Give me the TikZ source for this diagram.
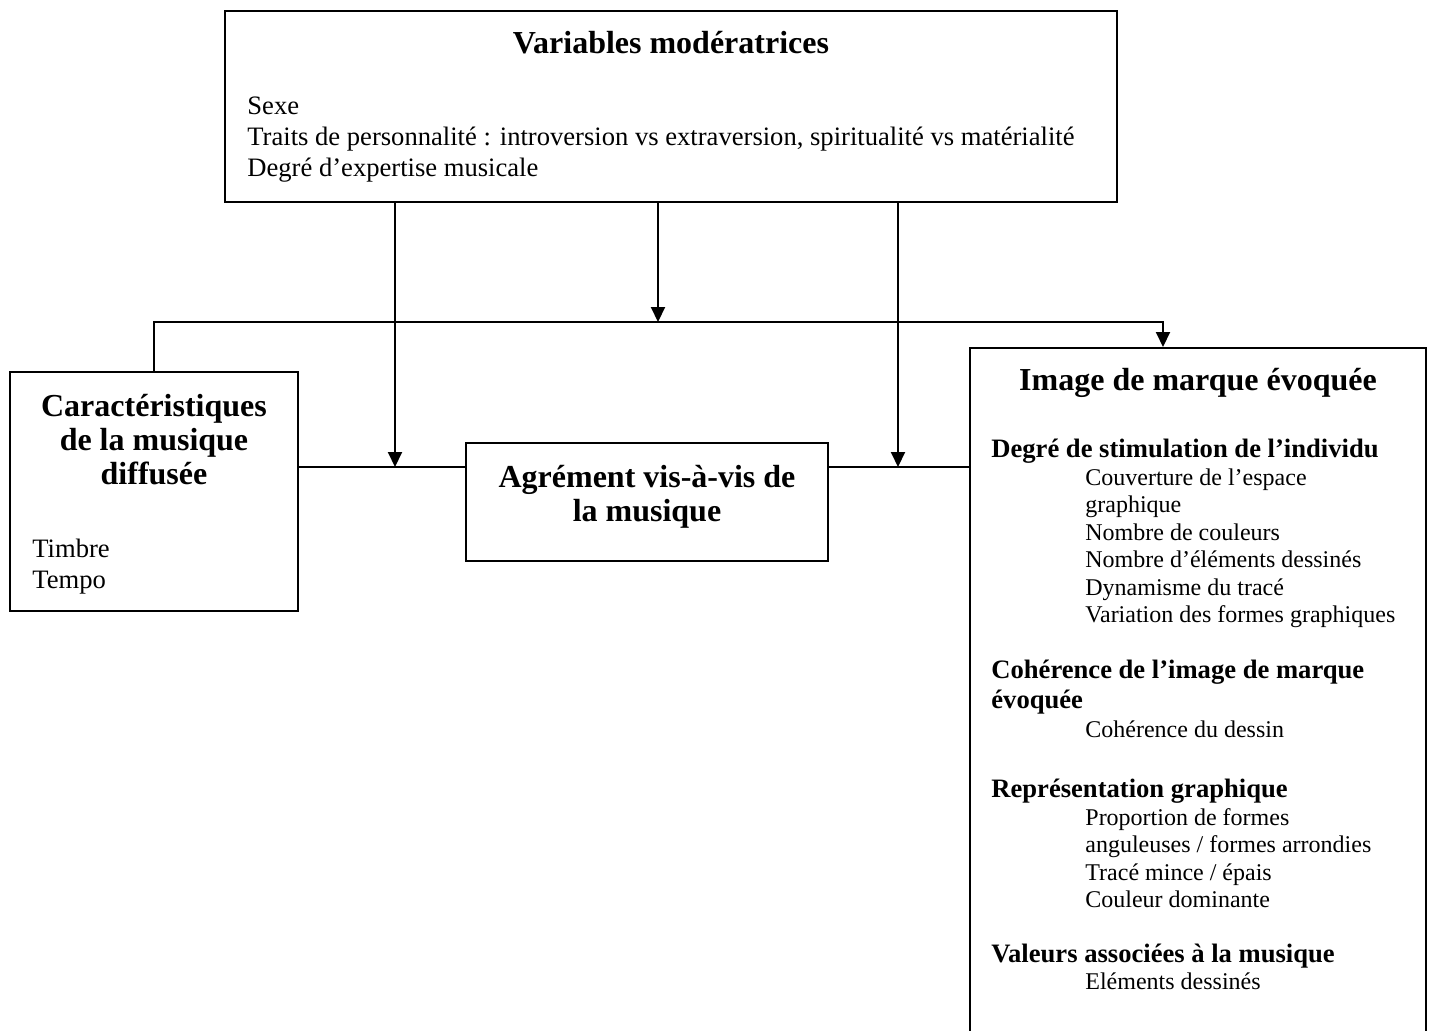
\documentclass[tikz,border=0pt]{standalone}
\usepackage{fontspec}
\setmainfont{Liberation Serif}
\usetikzlibrary{arrows.meta,fit,calc}
\tikzstyle{box}=[draw,line width=1pt,inner sep=0pt]
\tikzstyle{titre}=[inner sep=0pt,anchor=base,align=center,font=\bfseries\fontsize{16}{17}\selectfont]
\tikzstyle{liste}=[inner sep=0pt,anchor=base west,align=left,font=\fontsize{13.3}{15.5}\selectfont]
\tikzstyle{rubrique}=[inner sep=0pt,anchor=base west,align=left,font=\bfseries\fontsize{13.3}{15}\selectfont]
\tikzstyle{detail}=[inner sep=0pt,anchor=base west,align=left,font=\fontsize{12}{13.75}\selectfont]
\tikzstyle{fleche}=[-{Triangle[length=7.5pt,width=7pt]},line width=1pt]
\tikzstyle{trait}=[line width=1pt]

\begin{document}
\begin{tikzpicture}[x=0.5pt,y=-0.5pt]
        \useasboundingbox (0,0) rectangle (1431,1030);
        % Boxes:
        \node (moder) [box, fit={(225,11) (1117,202)}] {};
        \node (caract) [box, fit={(10,372) (298,611)}] {};
        \node (agrem) [box, fit={(466,443) (828,561)}] {};
        \node (image) [box, fit={(970,348) (1426,1045)}] {};

        % Junctions on the connectors:
        \coordinate (jgauche) at (395,467);
        \coordinate (jcentre) at (658,322);
        \coordinate (jdroite) at (898,467);
        \coordinate (jimage) at (1163,322);

        % Top box (text placed by its last baseline):
        \node (tmod) [titre] at (671,53) {Variables modératrices};
        \node (lmod) [liste] at (247,176) {Sexe\\Traits de personnalité : introversion vs extraversion, spiritualité vs matérialité\\Degré d’expertise musicale};

        % Left and middle boxes:
        \node (tcar) [titre] at (154,484) {Caractéristiques\\de la musique\\diffusée};
        \node (lcar) [liste] at (32,588) {Timbre\\Tempo};
        \node (tagr) [titre] at (647,521) {Agrément vis-à-vis de\\la musique};

        % Right box:
        \node (timg) [titre] at (1198,390) {Image de marque évoquée};
        \node (r1) [rubrique] at (991,457) {Degré de stimulation de l’individu};
        \node (d1) [detail] at (1085,622.5) {Couverture de l’espace\\graphique\\Nombre de couleurs\\Nombre d’éléments dessinés\\Dynamisme du tracé\\Variation des formes graphiques};
        \node (r2) [rubrique] at (991,708) {Cohérence de l’image de marque\\évoquée};
        \node (d2) [detail] at (1085,737) {Cohérence du dessin};
        \node (r3) [rubrique] at (991,797) {Représentation graphique};
        \node (d3) [detail] at (1085,907.5) {Proportion de formes\\anguleuses / formes arrondies\\Tracé mince / épais\\Couleur dominante};
        \node (r4) [rubrique] at (991,962) {Valeurs associées à la musique};
        \node (d4) [detail] at (1085,989) {Eléments dessinés};

        % Connectors:
        \draw[fleche] (moder.south -| jgauche) -- (jgauche);
        \draw[fleche] (moder.south -| jcentre) -- (jcentre);
        \draw[fleche] (moder.south -| jdroite) -- (jdroite);
        \draw[fleche] (caract.north) |- (jimage) -- (jimage |- image.north);
        \draw[trait] (caract.east |- jgauche) -- (agrem.west |- jgauche);
        \draw[trait] (agrem.east |- jdroite) -- (image.west |- jdroite);
\end{tikzpicture}
\end{document}
